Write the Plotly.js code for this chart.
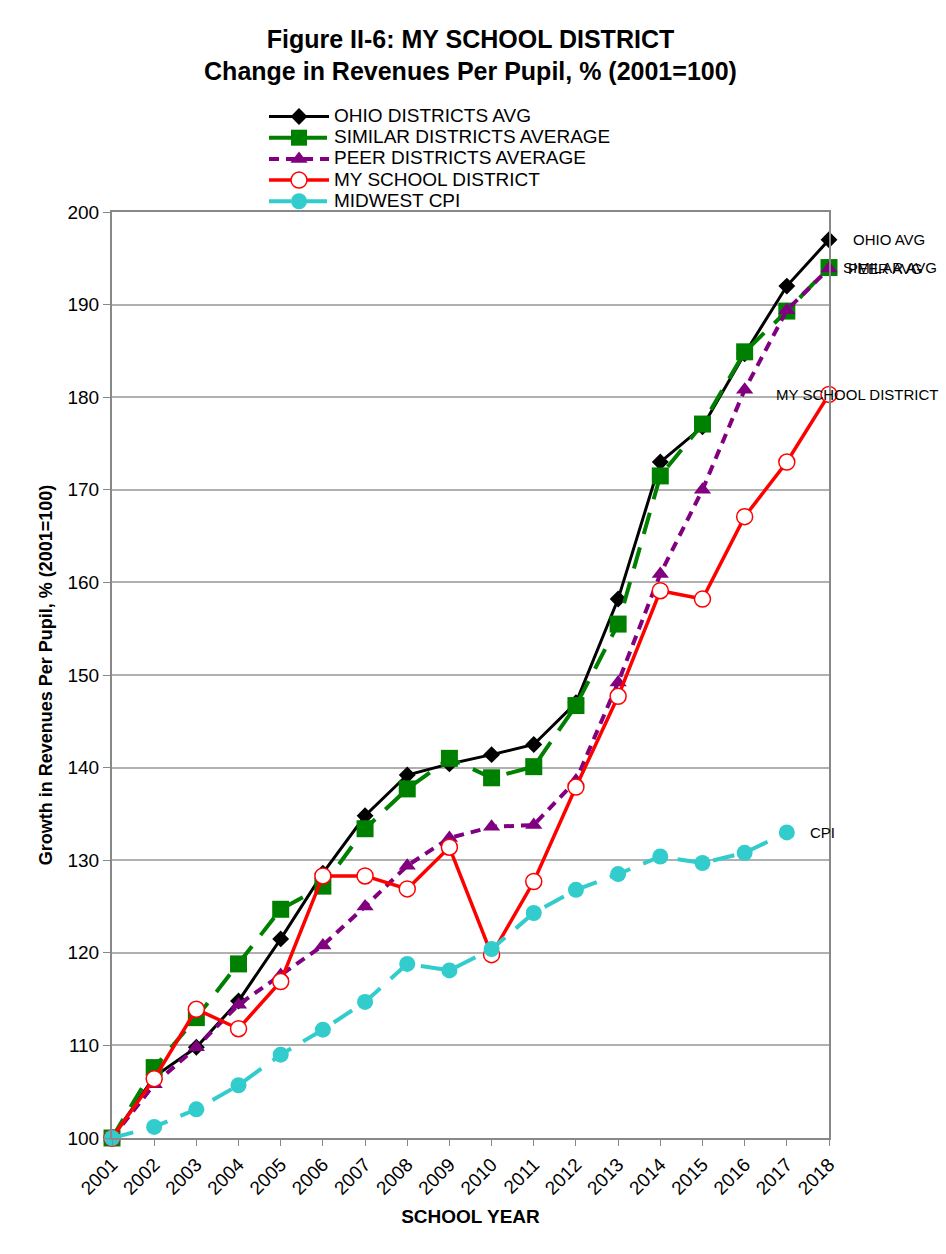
<!DOCTYPE html>
<html>
<head>
<meta charset="utf-8">
<script src="https://cdn.plot.ly/plotly-3.0.1.min.js"></script>
<style>html,body{margin:0;padding:0;background:#fff;}#chart{width:946px;height:1254px;}</style>
</head>
<body>
<div id="chart"></div>
<script>
const years = [2001,2002,2003,2004,2005,2006,2007,2008,2009,2010,2011,2012,2013,2014,2015,2016,2017,2018];
const ohioAvg    = [100,106.6,109.8,114.8,121.5,128.6,134.8,139.2,140.4,141.4,142.5,147.0,158.2,173.0,176.8,184.7,192.0,197.0];
const similarAvg = [100,107.6,113.0,118.8,124.7,127.2,133.4,137.7,141.0,138.9,140.1,146.7,155.5,171.5,177.1,184.9,189.3,194.0];
const peerAvg    = [100,105.8,109.8,114.4,117.6,120.8,125.0,129.4,132.4,133.6,133.8,138.6,149.2,160.9,170.0,180.8,189.4,193.9];
const myDistrict = [100,106.4,113.9,111.8,116.9,128.3,128.3,126.9,131.4,119.8,127.7,137.9,147.7,159.1,158.2,167.1,173.0,180.3];
const cpiYears   = [2001,2002,2003,2004,2005,2006,2007,2008,2009,2010,2011,2012,2013,2014,2015,2016,2017];
const midwestCpi = [100,101.2,103.1,105.7,109.0,111.7,114.7,118.8,118.1,120.4,124.3,126.8,128.5,130.4,129.7,130.8,133.0];

const seriesNames = ['OHIO DISTRICTS AVG','SIMILAR DISTRICTS AVERAGE','PEER DISTRICTS AVERAGE','MY SCHOOL DISTRICT','MIDWEST CPI'];
const endLabels = ['OHIO AVG','SIMILAR AVG','PEER AVG','MY SCHOOL DISTRICT','CPI'];

const legendText = s => '<span style="font-size:19px">' + s + '</span>';

const traces = [
  {x: years, y: ohioAvg, name: legendText(seriesNames[0]), mode: 'lines+markers',
   line: {color: '#000000', width: 3}, marker: {symbol: 'diamond', size: 13, color: '#000000'}},
  {x: years, y: similarAvg, name: legendText(seriesNames[1]), mode: 'lines+markers',
   line: {color: '#008000', width: 4, dash: '22px,14px'}, marker: {symbol: 'square', size: 17, color: '#008000'}},
  {x: years, y: peerAvg, name: legendText(seriesNames[2]), mode: 'lines+markers',
   line: {color: '#800080', width: 4, dash: '10px,7px'}, marker: {symbol: 'triangle-up', size: 15, color: '#800080'}},
  {x: years, y: myDistrict, name: legendText(seriesNames[3]), mode: 'lines+markers',
   line: {color: '#ff0000', width: 3.5}, marker: {symbol: 'circle', size: 16, color: '#ffffff', line: {color: '#ff0000', width: 1.5}}},
  {x: cpiYears, y: midwestCpi, name: legendText(seriesNames[4]), mode: 'lines+markers',
   line: {color: '#33cccc', width: 4, dash: '22px,14px'}, marker: {symbol: 'circle', size: 16, color: '#33cccc'}}
];
traces.forEach(t => { t.cliponaxis = false; });

const labelFont = {family: 'Liberation Sans, Arial, sans-serif', size: 15, color: '#000'};
const annotations = [
  {x: years[17], y: ohioAvg[17], text: endLabels[0], xanchor: 'left', xshift: 22},
  {x: years[17], y: similarAvg[17], text: endLabels[1], xanchor: 'left', xshift: 12},
  {x: years[17], y: peerAvg[17], text: endLabels[2], xanchor: 'left', xshift: 17},
  {x: years[17], y: myDistrict[17], text: endLabels[3], xanchor: 'center', xshift: 28},
  {x: cpiYears[16], y: midwestCpi[16], text: endLabels[4], xanchor: 'left', xshift: 21}
].map(a => Object.assign(a, {xref: 'x', yref: 'y', showarrow: false, font: labelFont, yanchor: 'middle'}));

const layout = {
  width: 946, height: 1254,
  margin: {l: 112, r: 117, t: 212, b: 116},
  paper_bgcolor: '#fff', plot_bgcolor: '#fff',
  font: {family: 'Liberation Sans, Arial, sans-serif', color: '#000', size: 19},
  title: {
    text: '<b>Figure II-6: MY SCHOOL DISTRICT<br>Change in Revenues Per Pupil, % (2001=100)</b>',
    font: {size: 25, family: 'Liberation Sans, Arial, sans-serif'},
    x: 0.5, xref: 'paper', xanchor: 'center', y: 0.962, yanchor: 'top'
  },
  showlegend: true,
  legend: {
    x: 0.212, xanchor: 'left', y: 1.12, yanchor: 'top',
    font: {size: 14, family: 'Liberation Sans, Arial, sans-serif'},
    bgcolor: 'rgba(0,0,0,0)', tracegroupgap: 0, itemwidth: 60
  },
  xaxis: {
    range: [2001, 2018], tickmode: 'linear', tick0: 2001, dtick: 1,
    tickangle: -45, ticks: 'outside', ticklen: 6, tickcolor: '#888',
    showgrid: false, zeroline: false,
    showline: true, linecolor: '#888', linewidth: 2, mirror: true,
    tickfont: {size: 19},
    title: {text: '<b>SCHOOL YEAR</b>', font: {size: 19}, standoff: 12}
  },
  yaxis: {
    range: [100, 200], tickmode: 'linear', tick0: 100, dtick: 10,
    ticks: 'outside', ticklen: 7, tickcolor: '#888',
    showgrid: true, gridcolor: '#b0b0b0', gridwidth: 1.5, zeroline: false,
    showline: true, linecolor: '#888', linewidth: 2, mirror: true,
    tickfont: {size: 19},
    title: {text: '<b>Growth in Revenues Per Pupil, % (2001=100)</b>', font: {size: 18}, standoff: 10}
  },
  annotations: annotations
};

Plotly.newPlot('chart', traces, layout, {displayModeBar: false, responsive: false});
</script>
</body>
</html>
